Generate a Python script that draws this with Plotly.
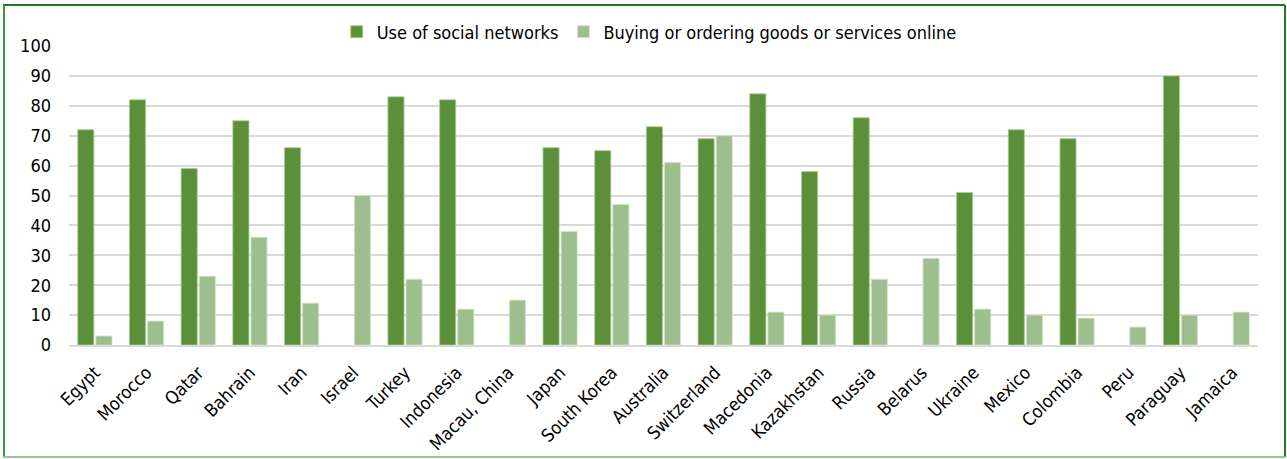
import plotly.graph_objects as go

countries = ["Egypt", "Morocco", "Qatar", "Bahrain", "Iran", "Israel", "Turkey", "Indonesia",
             "Macau, China", "Japan", "South Korea", "Australia", "Switzerland", "Macedonia",
             "Kazakhstan", "Russia", "Belarus", "Ukraine", "Mexico", "Colombia", "Peru",
             "Paraguay", "Jamaica"]
social = [72, 82, 59, 75, 66, None, 83, 82, None, 66, 65, 73, 69, 84, 58, 76, None, 51, 72, 69,
          None, 90, None]
online = [3, 8, 23, 36, 14, 50, 22, 12, 15, 38, 47, 61, 70, 11, 10, 22, 29, 12, 10, 9, 6, 10, 11]
series_names = ["Use of social networks", "Buying or ordering goods or services online"]
yticks = list(range(0, 101, 10))

W, H = 1287, 459
L, R, T, B = 69, 29, 46, 114
FONT = "DejaVu Sans Condensed, DejaVu Sans, sans-serif"

fig = go.Figure()
fig.add_trace(go.Bar(x=countries, y=social, name=series_names[0],
                     marker=dict(color="#5B8F3A", line=dict(color="#A9CC98", width=0.8))))
fig.add_trace(go.Bar(x=countries, y=online, name=series_names[1],
                     marker=dict(color="#9DBE8D", line=dict(color="#D4E6CB", width=0.8))))

pw = W - L - R
ph = H - T - B
def px(x):
    return (x - L) / pw
def py(y):
    return (H - B - y) / ph

shapes = [
    dict(type="line", xref="paper", yref="paper", x0=px(3), x1=px(1285), y0=py(5), y1=py(5),
         line=dict(color="#1E7B1E", width=2)),
    dict(type="line", xref="paper", yref="paper", x0=px(1285), x1=px(1285), y0=py(5), y1=py(457),
         line=dict(color="#1E7B1E", width=2)),
    dict(type="line", xref="paper", yref="paper", x0=px(4), x1=px(4), y0=py(5), y1=py(457),
         line=dict(color="#3C9A3C", width=2)),
    dict(type="line", xref="paper", yref="paper", x0=px(3), x1=px(1285), y0=py(457), y1=py(457),
         line=dict(color="#8CCB8C", width=2)),
]

fig.update_layout(
    width=W, height=H,
    margin=dict(l=L, r=R, t=T, b=B, autoexpand=False),
    paper_bgcolor="white", plot_bgcolor="white",
    barmode="group", bargap=0.30, bargroupgap=0.11,
    font=dict(family=FONT, size=18, color="#000000"),
    legend=dict(orientation="h", x=0.488, xanchor="center", y=py(32), yanchor="middle",
                font=dict(size=18), itemwidth=30, traceorder="normal"),
    shapes=shapes,
    xaxis=dict(tickangle=-45, showgrid=False, showline=True, linecolor="#D9D9D9", linewidth=2,
               ticks="", tickfont=dict(size=18), ticklabelstandoff=8),
    yaxis=dict(range=[0, 100], tickvals=yticks, showgrid=True, gridcolor="#D9D9D9", gridwidth=2,
               zeroline=False, showline=False, ticks="", tickfont=dict(size=18), ticklabelstandoff=17),
)

fig.write_html("out.html", config={"displayModeBar": False},
               post_script="document.body.style.margin='0';document.body.style.overflow='hidden';")
